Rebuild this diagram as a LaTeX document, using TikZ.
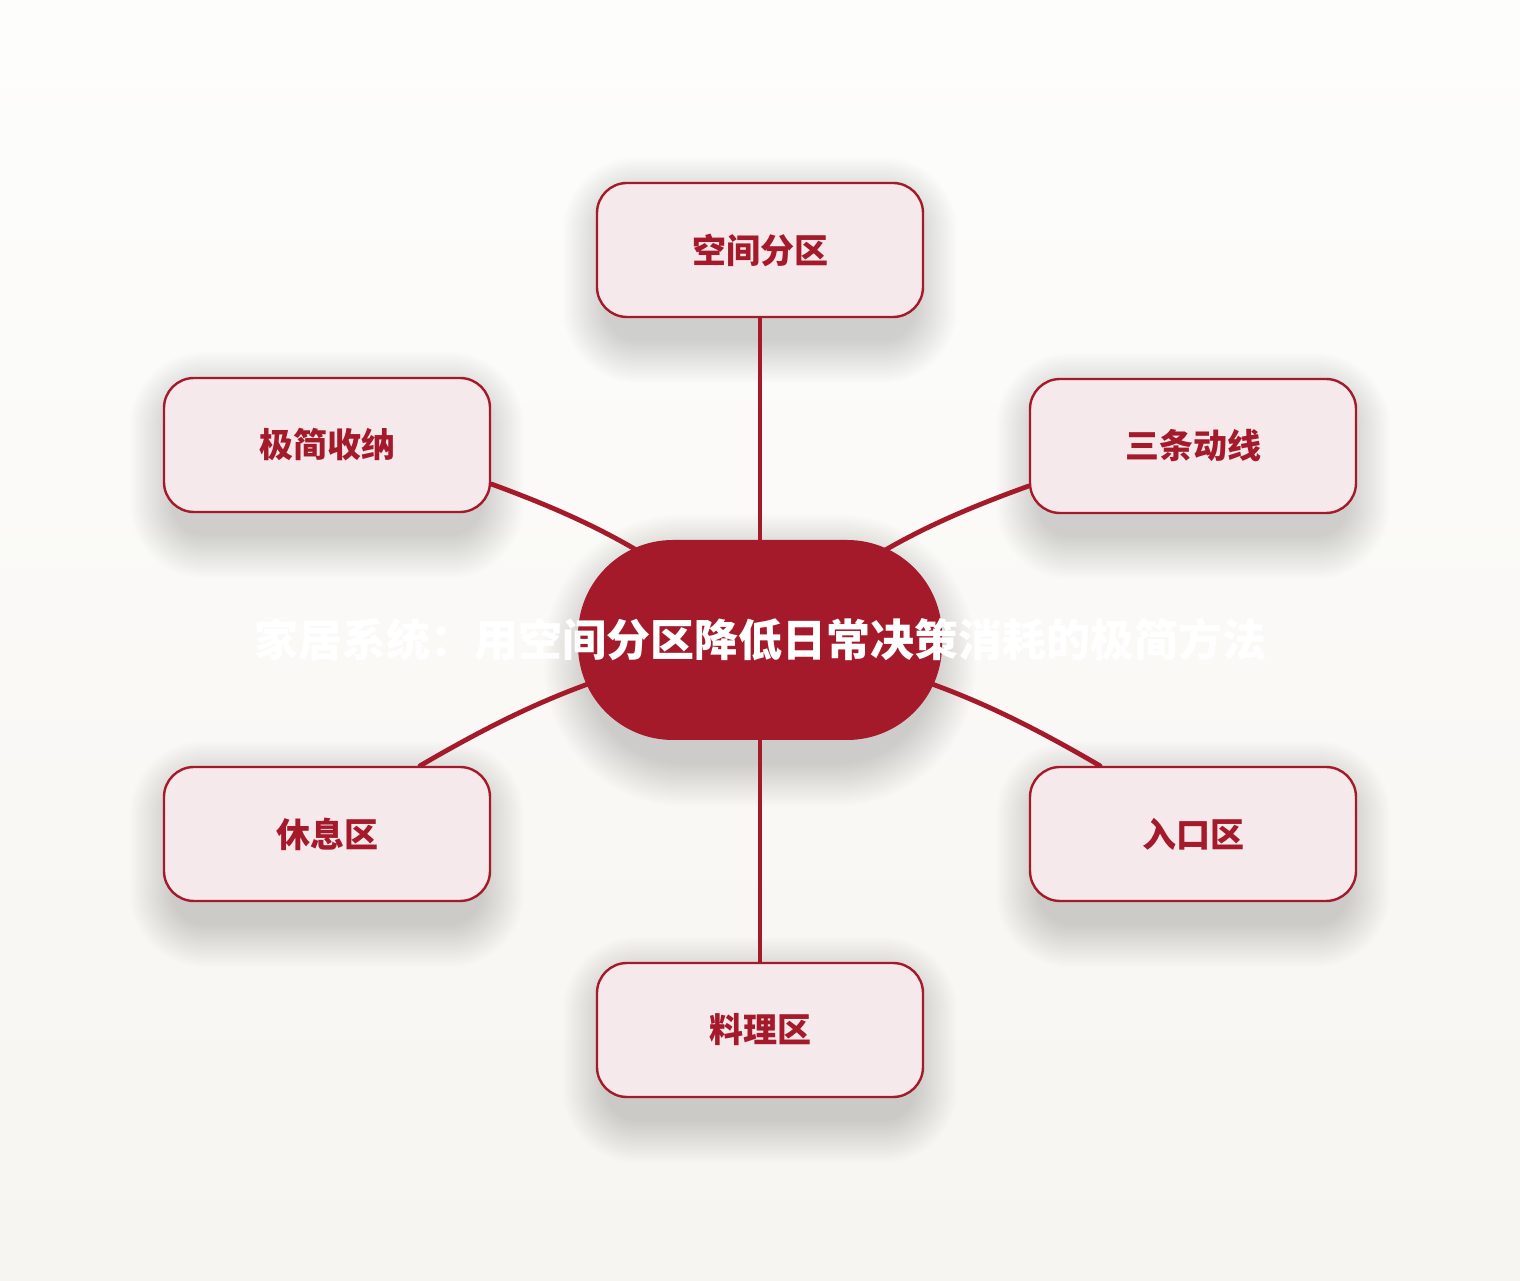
\documentclass[tikz,border=0pt]{standalone}
\usepackage{fontspec}
\newfontfamily\cjk{Noto Sans CJK SC}
\usetikzlibrary{calc}
\definecolor{deep}{HTML}{A51A2A}
\definecolor{pale}{HTML}{F5E9EC}
\definecolor{bgtop}{HTML}{FDFDFC}
\definecolor{bgbot}{HTML}{F7F5F1}
\pgfdeclarelayer{back}
\pgfdeclarelayer{shad}
\pgfdeclarelayer{edge}
\pgfsetlayers{back,shad,edge,main}
\newcommand\softshadow[5]{% x y w h r
  \foreach \i [evaluate=\i as \d using \i*2.0, evaluate=\i as \rr using #5+\i*2.0] in {1,...,22} {
    \fill[black, opacity=0.0072, rounded corners=\rr pt]
      ({#1-#3/2-\d+10},{#2-#4/2-22-\d}) rectangle ({#1+#3/2+\d-10},{#2+#4/2-18+\d});
  }}
\begin{document}
\begin{tikzpicture}[x=1pt,y=1pt,
  sat/.style={draw=deep, line width=2.4pt, fill=pale, rounded corners=30pt,
    minimum width=326pt, minimum height=134pt, inner sep=0pt, text=deep,
    font=\cjk\bfseries\fontsize{34}{40}\selectfont},
  hub/.style={fill=deep, rounded corners=95pt, minimum width=364pt,
    minimum height=200pt, inner sep=0pt, text=white,
    font=\cjk\bfseries\fontsize{44}{52}\selectfont},
  conn/.style={draw=deep, line width=4.8pt, line cap=round}]
\useasboundingbox (0,0) rectangle (1520,1280);
\begin{pgfonlayer}{back}
  \shade[top color=bgtop, bottom color=bgbot] (0,0) rectangle (1520,1280);
\end{pgfonlayer}
\begin{pgfonlayer}{shad}
  \softshadow{760}{640}{364}{200}{95}
  \softshadow{760}{1030}{326}{134}{30}
  \softshadow{327}{835}{326}{134}{30}
  \softshadow{1193}{834}{326}{134}{30}
  \softshadow{327}{446}{326}{134}{30}
  \softshadow{1193}{446}{326}{134}{30}
  \softshadow{760}{250}{326}{134}{30}
\end{pgfonlayer}

\node[hub] (c) at (760,640) {\makebox[0pt]{家居系统：用空间分区降低日常决策消耗的极简方法}};
\node[sat] (n1) at (760,1030) {空间分区};
\node[sat] (n2) at (327,835) {极简收纳};
\node[sat] (n3) at (1193,834) {三条动线};
\node[sat] (n4) at (327,446) {休息区};
\node[sat] (n5) at (1193,446) {入口区};
\node[sat] (n6) at (760,250) {料理区};

\begin{pgfonlayer}{edge}
  \draw[conn] (n1.south) -- (c.center);
  \draw[conn] (n6.north) -- (c.center);
  \draw[conn] ([yshift=-39pt]n2.east) to[bend left=10] (c.center);
  \draw[conn] ([yshift=-40pt]n3.west) to[bend right=10] (c.center);
  \draw[conn] ([xshift=93pt]n4.north) to[bend left=10] (c.center);
  \draw[conn] ([xshift=-93pt]n5.north) to[bend right=10] (c.center);
\end{pgfonlayer}
\end{tikzpicture}
\end{document}
